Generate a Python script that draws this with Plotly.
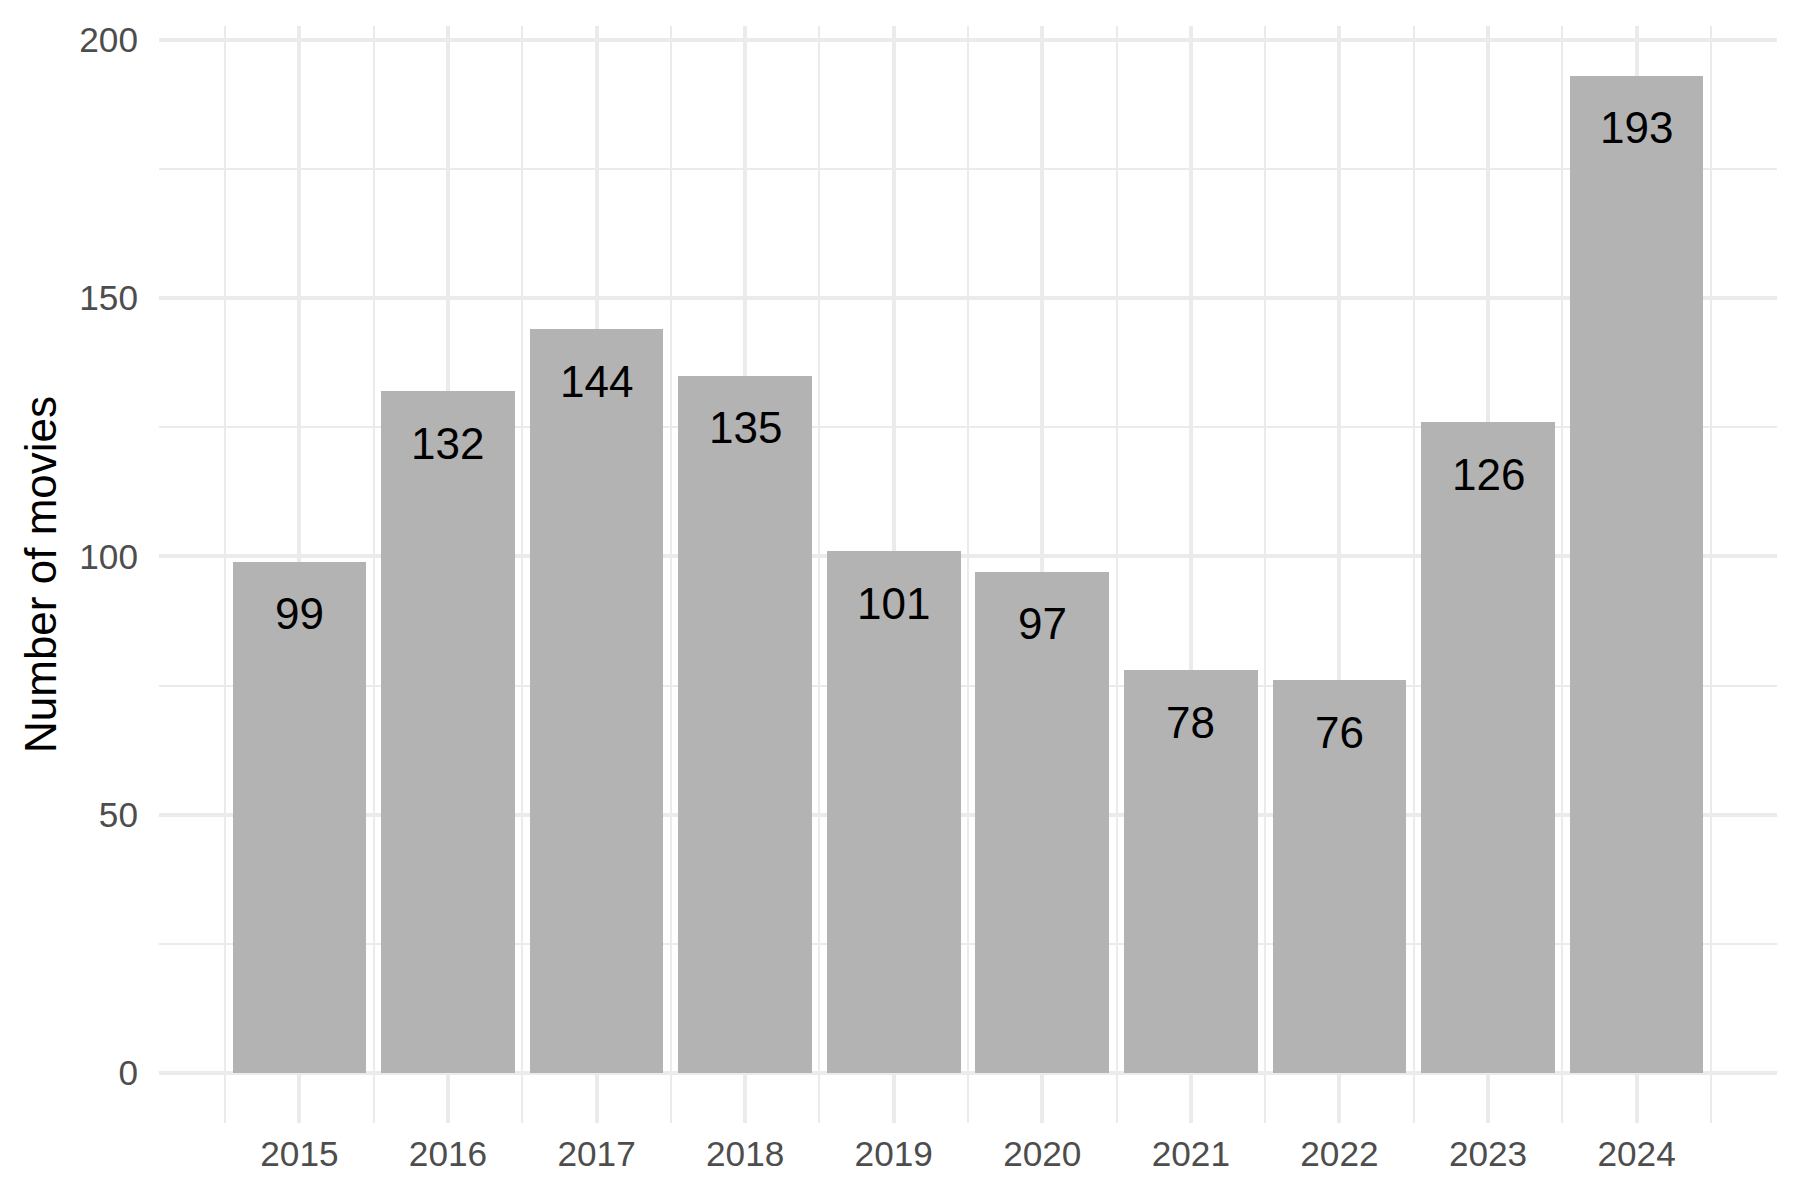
import plotly.graph_objects as go

years = [2015, 2016, 2017, 2018, 2019, 2020, 2021, 2022, 2023, 2024]
counts = [99, 132, 144, 135, 101, 97, 78, 76, 126, 193]
y_ticks = [0, 50, 100, 150, 200]
y_title = "Number of movies"

FONT = "Liberation Sans, Arial, Helvetica, sans-serif"
GRID = "#EBEBEB"

fig = go.Figure()
fig.add_trace(go.Bar(
    x=years, y=counts, width=0.9,
    marker=dict(color="#B3B3B3", line=dict(width=0)),
    hoverinfo="x+y",
))

for yr, c in zip(years, counts):
    fig.add_annotation(
        x=yr, y=c, text=str(c), showarrow=False,
        yanchor="middle", xanchor="center", yshift=-52,
        font=dict(family=FONT, size=44, color="black"),
    )

xmin, xmax = min(years) - 0.45, max(years) + 0.45
xpad = (xmax - xmin) * 0.05
ymax = max(counts)
ypad = ymax * 0.05

fig.update_layout(
    width=1792, height=1192,
    margin=dict(l=151, r=23, t=15, b=77),
    plot_bgcolor="white", paper_bgcolor="white",
    showlegend=False,
    font=dict(family=FONT),
    bargap=0,
)
fig.update_xaxes(
    range=[xmin - xpad, xmax + xpad],
    tickvals=years, ticktext=[str(y) for y in years],
    showgrid=True, gridcolor=GRID, gridwidth=4,
    minor=dict(tick0=2014.5, dtick=1, showgrid=True, gridcolor=GRID, gridwidth=2),
    zeroline=False, showline=False, ticks="",
    tickfont=dict(family=FONT, size=35.2, color="#4D4D4D"),
    ticklabelstandoff=7,
)
fig.update_yaxes(
    range=[-ypad, ymax + ypad],
    tickvals=y_ticks, ticktext=[str(v) for v in y_ticks],
    showgrid=True, gridcolor=GRID, gridwidth=4,
    minor=dict(tick0=0, dtick=25, showgrid=True, gridcolor=GRID, gridwidth=2),
    zeroline=False, showline=False, ticks="",
    tickfont=dict(family=FONT, size=35.2, color="#4D4D4D"),
    ticklabelstandoff=20,
    title=dict(text=y_title, font=dict(family=FONT, size=44, color="black"), standoff=8),
)

fig.write_html("out.html")
